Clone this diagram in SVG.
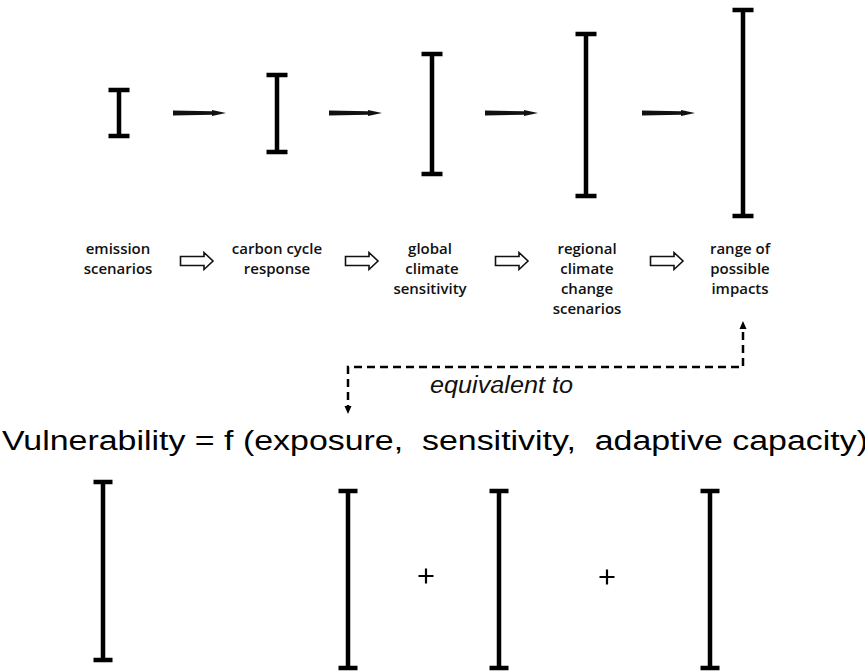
<svg xmlns="http://www.w3.org/2000/svg" width="865" height="672" viewBox="0 0 865 672">
<defs>
<style>
.bar{stroke:#000;stroke-width:4.5;fill:none}
.lbl{font-family:"Open Sans","Noto Sans",sans-serif;font-weight:600;font-size:15px;fill:#111;text-anchor:middle}
.flow{fill:#111;stroke:none}
.hollow{fill:#fff;stroke:#111;stroke-width:1.6;stroke-linejoin:miter}
.dash{fill:none;stroke:#000;stroke-width:2.5;stroke-dasharray:8 5}
.plus{stroke:#000;stroke-width:2.2}
</style>
</defs>
<rect width="865" height="672" fill="#fff"/>

<g id="bar-emission"><path class="bar" d="M119,90 V136 M108.5,90 H129.5 M108.5,136 H129.5"/></g>
<g id="bar-carbon"><path class="bar" d="M277,75 V152 M266.5,75 H287.5 M266.5,152 H287.5"/></g>
<g id="bar-global"><path class="bar" d="M432,54 V174 M421.5,54 H442.5 M421.5,174 H442.5"/></g>
<g id="bar-regional"><path class="bar" d="M586,34 V196 M575.5,34 H596.5 M575.5,196 H596.5"/></g>
<g id="bar-impacts"><path class="bar" d="M743,10 V216 M732.5,10 H753.5 M732.5,216 H753.5"/></g>

<g id="label-emission"><text class="lbl"><tspan x="118" y="254">emission</tspan><tspan x="118" y="274">scenarios</tspan></text></g>
<g id="label-carbon"><text class="lbl"><tspan x="277" y="254">carbon cycle</tspan><tspan x="277" y="274">response</tspan></text></g>
<g id="label-global"><text class="lbl"><tspan x="430" y="254">global</tspan><tspan x="432" y="274">climate</tspan><tspan x="430" y="294">sensitivity</tspan></text></g>
<g id="label-regional"><text class="lbl"><tspan x="587" y="254">regional</tspan><tspan x="587" y="274">climate</tspan><tspan x="587" y="294">change</tspan><tspan x="587" y="314">scenarios</tspan></text></g>
<g id="label-impacts"><text class="lbl"><tspan x="740" y="254">range of</tspan><tspan x="740" y="274">possible</tspan><tspan x="740" y="294">impacts</tspan></text></g>

<g id="connectors">
<polygon class="flow" points="173,110.5 212,111.2 212,110 226,113 212,116 212,114.8 173,115.5"/>
<polygon class="flow" points="329,110.5 368,111.2 368,110 382,113 368,116 368,114.8 329,115.5"/>
<polygon class="flow" points="485,110.5 524,111.2 524,110 538,113 524,116 524,114.8 485,115.5"/>
<polygon class="flow" points="642,110.5 681,111.2 681,110 695,113 681,116 681,114.8 642,115.5"/>

<polygon class="hollow" points="180.5,256.5 204,256.5 204,252.5 213,261 204,269.5 204,265.5 180.5,265.5"/>
<polygon class="hollow" points="345.5,256.5 369,256.5 369,252.5 378,261 369,269.5 369,265.5 345.5,265.5"/>
<polygon class="hollow" points="495.5,256.5 519,256.5 519,252.5 528,261 519,269.5 519,265.5 495.5,265.5"/>
<polygon class="hollow" points="650.5,256.5 674,256.5 674,252.5 683,261 674,269.5 674,265.5 650.5,265.5"/>

<path class="dash" d="M743,332 V367 H348 V406"/>
<polygon fill="#000" points="743,321 739.5,329 746.5,329"/>
<polygon fill="#000" points="348,414 344.5,406 351.5,406"/>
</g>

<text x="430" y="393" font-family="'Liberation Sans',Arial,sans-serif" font-style="italic" font-size="23" textLength="143" lengthAdjust="spacingAndGlyphs" fill="#111">equivalent to</text>

<text x="2" y="450" font-family="'Liberation Sans',Arial,sans-serif" font-size="27" textLength="866" lengthAdjust="spacingAndGlyphs" fill="#000" xml:space="preserve">Vulnerability = f (exposure,  sensitivity,  adaptive capacity)</text>

<g id="bar-vulnerability"><path class="bar" d="M103,482 V660 M93.5,482 H112.5 M93.5,660 H112.5"/></g>
<g id="bar-exposure"><path class="bar" d="M348,491 V668 M338.5,491 H357.5 M338.5,668 H357.5"/></g>
<g id="bar-sensitivity"><path class="bar" d="M499,491 V668 M489.5,491 H508.5 M489.5,668 H508.5"/></g>
<g id="bar-adaptive"><path class="bar" d="M710,491 V668 M700.5,491 H719.5 M700.5,668 H719.5"/></g>

<g id="plus1"><path class="plus" d="M418.5,576 H433.5 M426,568.5 V583.5"/></g>
<g id="plus2"><path class="plus" d="M599.5,577 H614.5 M607,569.5 V584.5"/></g>
</svg>
